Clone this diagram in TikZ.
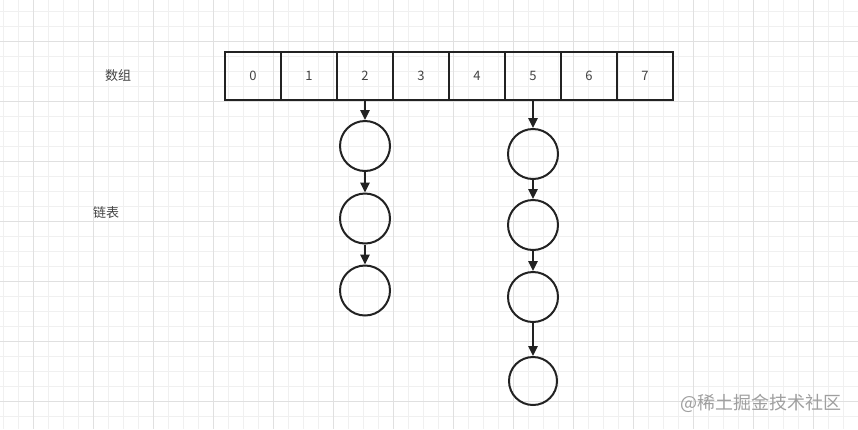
\documentclass[tikz,border=0pt]{standalone}
\usepackage{fontspec}
\setmainfont{Noto Sans CJK SC}
\usetikzlibrary{arrows.meta}

\definecolor{gridminor}{HTML}{F0F0F0}
\definecolor{gridmajor}{HTML}{E0E0E0}
\definecolor{ink}{HTML}{222222}

\tikzset{
  cell/.style={draw=ink, line width=2pt, minimum width=56pt, minimum height=48pt,
    inner sep=0pt, font=\fontsize{13}{15}\selectfont, text=ink!85},
  listnode/.style={draw=ink, line width=2pt, circle, minimum size=50pt, inner sep=0pt},
  link/.style={draw=ink, line width=1.6pt, -{Triangle[length=10pt,width=9.5pt]}},
  caption/.style={font=\fontsize{13}{15}\selectfont, text=ink!85},
}

\begin{document}
\begin{tikzpicture}[x=1pt,y=-1pt]
    \useasboundingbox (0,0) rectangle (858,429);
    \fill[white] (0,0) rectangle (858,429);

    % background grid
    \foreach \x in {3,18,...,858} \draw[gridminor, line width=0.8pt] (\x,0) -- (\x,429);
    \foreach \y in {11,26,...,429} \draw[gridminor, line width=0.8pt] (0,\y) -- (858,\y);
    \foreach \x in {33,93,...,858} \draw[gridmajor, line width=0.8pt] (\x,0) -- (\x,429);
    \foreach \y in {41,101,...,429} \draw[gridmajor, line width=0.8pt] (0,\y) -- (858,\y);

    % array
    \foreach \i in {0,...,7}
      \node[cell] (c\i) at ({253+56*\i},75.5) {\i};
    \node[caption] (arr) at (118,76) {数组};
    \node[caption] (lst) at (106,213) {链表};

    % lists
    \node[listnode] (a1) at (365,146) {};
    \node[listnode] (a2) at (365,218.5) {};
    \node[listnode] (a3) at (365,290.5) {};

    \node[listnode] (b1) at (533,154) {};
    \node[listnode] (b2) at (533,225) {};
    \node[listnode] (b3) at (533,297) {};
    \node[listnode, minimum size=48pt] (b4) at (533,381) {};

    \draw[link] (c2.south) -- (a1);
    \draw[link] (a1) -- (a2);
    \draw[link] (a2) -- (a3);
    \draw[link] (c5.south) -- (b1);
    \draw[link] (b1) -- (b2);
    \draw[link] (b2) -- (b3);
    \draw[link] (b3) -- (b4);

    \node[anchor=east, text=gray!75, font=\fontsize{18}{21}\selectfont] (mark) at (845,403) {@稀土掘金技术社区};
\end{tikzpicture}
\end{document}
